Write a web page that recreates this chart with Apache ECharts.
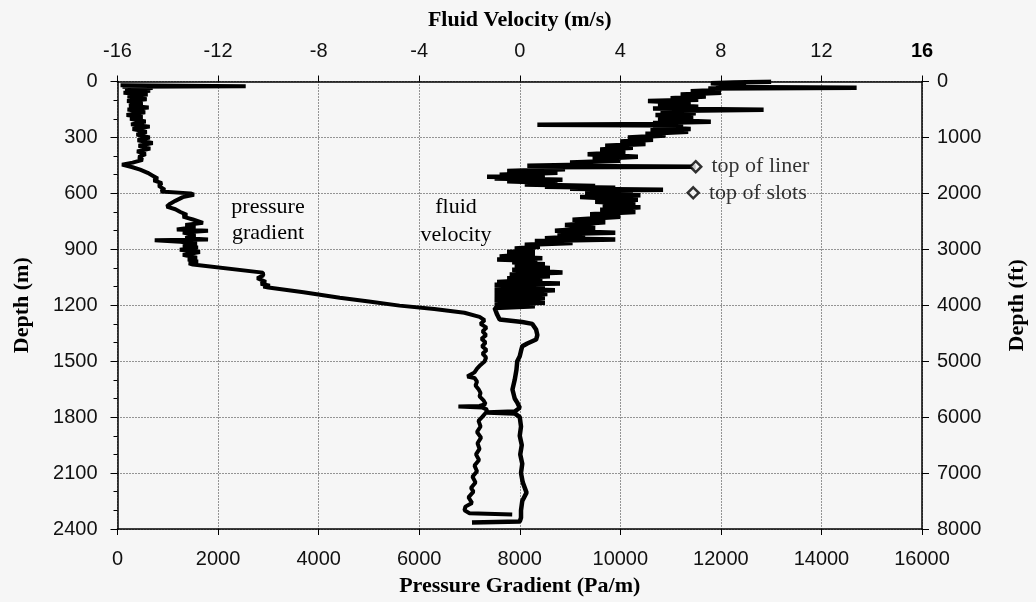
<!DOCTYPE html>
<html>
<head>
<meta charset="utf-8">
<script src="https://cdn.jsdelivr.net/npm/echarts@6/dist/echarts.min.js"></script>
<style>
  html, body { margin: 0; padding: 0; background: #f6f6f6; }
  #chart { width: 1036px; height: 602px; }
</style>
</head>
<body>
<div id="chart"></div>
<script>
// pressure gradient (Pa/m) against depth (m)
var presDepth = [20, 25, 28, 35, 40, 50, 60, 70, 80, 95, 105, 115, 130, 140, 150, 165, 180, 190, 200, 215,
  230, 242, 255, 270, 285, 300, 315, 330, 345, 360, 375, 390, 405, 420, 435, 446, 460, 473, 490, 505,
  520, 530, 545, 560, 580, 590, 600, 607, 620, 640, 655, 671, 685, 700, 715, 725, 740, 758, 770, 780,
  794, 800, 810, 825, 840, 848, 852, 859, 870, 880, 890, 902, 915, 930, 945, 955, 965, 975, 982, 1025,
  1040, 1055, 1063, 1075, 1085, 1095, 1100, 1105, 1130, 1160, 1180, 1202, 1220, 1240, 1262, 1280, 1300, 1320, 1340, 1360,
  1380, 1400, 1420, 1440, 1460, 1480, 1502, 1520, 1540, 1560, 1575, 1582, 1590, 1610, 1630, 1650, 1670, 1689, 1710, 1730,
  1740, 1743, 1748, 1760, 1775, 1785, 1800, 1820, 1850, 1880, 1910, 1940, 1970, 2000, 2030, 2060, 2090, 2120, 2150, 2180,
  2200, 2230, 2260, 2280, 2300, 2315, 2322];
var presVal = [60, 2550, 100, 700, 150, 650, 120, 600, 200, 580, 190, 500, 230, 620, 200, 550, 180, 500, 250, 560,
  270, 640, 300, 580, 380, 640, 400, 700, 420, 650, 390, 560, 420, 500, 300, 90, 300, 450, 600, 700,
  800, 720, 880, 820, 940, 860, 1450, 1520, 1300, 1150, 1050, 980, 1150, 1250, 1380, 1300, 1500, 1700, 1350, 1550,
  1180, 1800, 1300, 1550, 1350, 1800, 740, 1250, 1580, 1300, 1600, 1240, 1640, 1300, 1580, 1400, 1600, 1420, 1500, 2890,
  2900, 2780, 2770, 2950, 2850, 3030, 2900, 3000, 3700, 4420, 5000, 5610, 6300, 6900, 7200, 7300, 7220, 7340, 7260, 7330,
  7240, 7320, 7250, 7340, 7260, 7330, 7300, 7220, 7150, 7100, 7000, 6960, 7100, 7150, 7120, 7180, 7220, 7200, 7280, 7320,
  7200, 6780, 7250, 7350, 7330, 7350, 7250, 7180, 7220, 7150, 7230, 7160, 7200, 7130, 7190, 7100, 7150, 7060, 7120, 7030,
  7080, 6980, 7050, 6920, 6900, 7000, 7850];

// fluid velocity (m/s) against depth (m)
var velDepth = [2, 6, 10, 20, 30, 34, 38, 45, 52, 61, 70, 80, 90, 98, 105, 115, 125, 135, 145, 152,
  158, 170, 180, 192, 205, 216, 222, 228, 232, 236, 245, 255, 262, 270, 280, 290, 300, 312, 322, 335,
  345, 355, 365, 380, 390, 403, 415, 425, 435, 445, 452, 457, 460, 470, 480, 490, 500, 507, 511, 515,
  520, 527, 535, 545, 552, 560, 564, 570, 575, 580, 585, 592, 600, 610, 620, 634, 645, 655, 665, 675,
  688, 700, 712, 725, 741, 755, 770, 785, 800, 811, 818, 830, 840, 848, 855, 866, 876, 886, 895, 905,
  915, 925, 939, 948, 955, 962, 970, 980, 990, 1000, 1010, 1025, 1035, 1045, 1055, 1063, 1075, 1083, 1090, 1100,
  1110, 1120, 1133, 1140, 1150, 1160, 1170, 1186, 1195, 1205, 1215, 1224, 1250, 1277, 1290, 1300, 1330, 1360, 1384, 1405,
  1420, 1445, 1473, 1500, 1545, 1600, 1652, 1700, 1722, 1750, 1770, 1775, 1780, 1800, 1850, 1900, 1950, 2000, 2050, 2100,
  2150, 2205, 2250, 2300, 2340, 2360, 2365];
var velVal = [10.0, 8.5, 7.6, 9.0, 7.8, 13.4, 7.5, 8.0, 6.8, 8.0, 6.4, 7.4, 6.0, 7.1, 5.1, 6.8, 5.5, 7.1, 5.3, 9.7,
  5.6, 7.0, 5.4, 6.9, 5.5, 7.6, 5.3, 6.0, 0.7, 6.5, 5.3, 6.8, 5.2, 6.7, 5.0, 5.8, 4.3, 5.3, 4.0, 5.0,
  3.4, 4.5, 3.2, 4.2, 2.7, 4.7, 2.9, 4.0, 2.0, 3.0, 0.3, 7.0, 0.5, 1.8, -0.5, 1.5, -0.8, 1.0, -1.3, 0.5,
  -1.0, 1.7, -0.5, 1.5, 0.2, 3.0, 1.0, 3.8, 2.0, 5.7, 3.0, 4.5, 2.6, 4.8, 2.4, 4.7, 3.0, 4.6, 3.3, 4.8,
  3.2, 4.6, 2.8, 4.0, 2.1, 3.4, 1.8, 3.0, 1.4, 3.8, 1.5, 2.6, 1.0, 3.8, 0.6, 2.1, 0.2, 0.8, -0.2, 0.6,
  -0.5, 0.6, -0.8, 0.9, -0.9, 0.7, -0.3, 1.0, -0.2, 1.2, -0.3, 1.7, -0.4, 1.2, -0.5, 0.9, -0.9, 1.6, -1.0, 1.0,
  -1.0, 1.4, -1.0, 1.1, -1.0, 1.0, -1.0, 1.0, -1.0, 0.6, -1.0, -1.0, -0.9, -0.8, 0.1, 0.5, 0.65, 0.7, 0.65, 0.3,
  0.1, 0.05, 0.0, -0.1, -0.13, -0.2, -0.29, -0.2, -0.1, 0.0, -0.2, -1.3, -0.2, 0.0, 0.05, 0.0, 0.08, 0.02, 0.1, 0.05,
  0.12, 0.27, 0.1, 0.05, 0.05, 0.0, -1.9];

// well markers (velocity axis, depth)
var markerNames = ['top of liner', 'top of slots'];
var markerVel = [7.0, 6.9];
var markerDepth = [457, 597];

function zip(a, b) {
  return a.map(function (v, i) { return [v, b[i]]; });
}

var chart = echarts.init(document.getElementById('chart'));
var sans = 'Liberation Sans, Arial, sans-serif';
var serif = 'Liberation Serif, Times New Roman, serif';
var axisBlack = { lineStyle: { color: '#000', width: 1.5 }, onZero: false };
var gridDots = { show: true, lineStyle: { color: '#333', type: [1, 2], width: 1 } };
var nameStyle = { fontFamily: serif, fontWeight: 'bold', fontSize: 22, color: '#000' };
var plain = function (v) { return String(v); };

chart.setOption({
  backgroundColor: '#f6f6f6',
  animation: false,
  grid: { left: 117.5, right: 113, top: 81.5, bottom: 72 },
  xAxis: [
    {
      type: 'value', position: 'bottom', min: 0, max: 16000, interval: 2000,
      name: 'Pressure Gradient (Pa/m)', nameLocation: 'middle', nameGap: 46, nameTextStyle: nameStyle,
      axisLine: axisBlack,
      axisTick: { show: true, length: 6, lineStyle: { color: '#000' } },
      axisLabel: { margin: 20, formatter: plain, fontFamily: sans, fontSize: 20, color: '#111' },
      splitLine: gridDots
    },
    {
      type: 'value', position: 'top', min: -16, max: 16, interval: 4,
      name: 'Fluid Velocity (m/s)', nameLocation: 'middle', nameGap: 50, nameTextStyle: nameStyle,
      axisLine: axisBlack,
      axisTick: { show: true, length: 6, lineStyle: { color: '#000' } },
      axisLabel: {
        margin: 20, fontFamily: sans, fontSize: 20, color: '#111',
        formatter: function (v) { return v === 16 ? '{b|16}' : String(v); },
        rich: { b: { fontFamily: sans, fontSize: 20, fontWeight: 'bold', color: '#000' } }
      },
      splitLine: { show: false }
    }
  ],
  yAxis: [
    {
      type: 'value', position: 'left', min: 0, max: 2400, interval: 300, inverse: true,
      name: 'Depth (m)', nameLocation: 'middle', nameGap: 84, nameTextStyle: nameStyle,
      axisLine: axisBlack,
      axisTick: { show: true, length: 7, lineStyle: { color: '#000' } },
      minorTick: { show: true, splitNumber: 3, length: 4, lineStyle: { color: '#000' } },
      axisLabel: { margin: 20, formatter: plain, fontFamily: sans, fontSize: 20, color: '#111' },
      splitLine: gridDots
    },
    {
      type: 'value', position: 'right', min: 0, max: 8000, interval: 1000, inverse: true,
      name: 'Depth (ft)', nameLocation: 'middle', nameGap: 84, nameTextStyle: nameStyle,
      axisLine: axisBlack,
      axisTick: { show: true, length: 7, lineStyle: { color: '#000' } },
      axisLabel: { margin: 15, formatter: plain, fontFamily: sans, fontSize: 20, color: '#111' },
      splitLine: { show: false }
    }
  ],
  series: [
    {
      name: 'pressure gradient', type: 'line', xAxisIndex: 0, yAxisIndex: 0,
      data: zip(presVal, presDepth), showSymbol: false, symbol: 'none',
      lineStyle: { color: '#000', width: 4 }
    },
    {
      name: 'fluid velocity', type: 'line', xAxisIndex: 1, yAxisIndex: 0,
      data: zip(velVal, velDepth), showSymbol: false, symbol: 'none',
      lineStyle: { color: '#000', width: 4.5 }
    },
    {
      name: 'markers', type: 'scatter', xAxisIndex: 1, yAxisIndex: 0,
      data: markerNames.map(function (n, i) { return { name: n, value: [markerVel[i], markerDepth[i]] }; }),
      symbol: 'diamond', symbolSize: 11,
      itemStyle: { color: '#f6f6f6', borderColor: '#000', borderWidth: 2.5 },
      label: {
        show: true, position: 'right', distance: 9,
        formatter: function (p) { return p.name; },
        fontFamily: serif, fontSize: 22, color: '#000'
      },
      z: 5
    }
  ],
  graphic: [
    {
      type: 'text', x: 268, y: 194,
      style: { text: 'pressure\ngradient', font: '22px ' + serif, fill: '#000', textAlign: 'center', lineHeight: 26 }
    },
    {
      type: 'text', x: 456, y: 193,
      style: { text: 'fluid\nvelocity', font: '22px ' + serif, fill: '#000', textAlign: 'center', lineHeight: 28 }
    }
  ]
});
</script>
</body>
</html>
